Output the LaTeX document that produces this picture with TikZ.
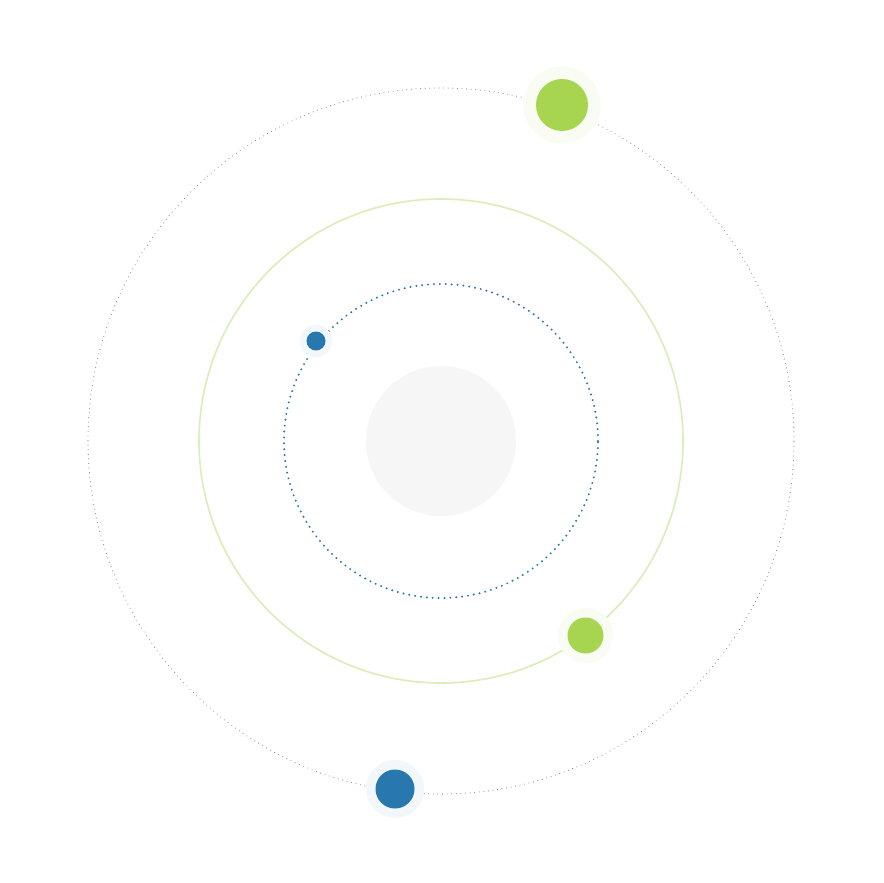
\documentclass[tikz,border=0pt]{standalone}
\definecolor{pgreen}{HTML}{A8D54F}
\definecolor{pblue}{HTML}{2878AD}
\definecolor{ghalo}{HTML}{F9FCF3}
\definecolor{bhalo}{HTML}{F2F7FB}
\definecolor{core}{HTML}{F6F6F6}
\definecolor{gring}{HTML}{DBEDB8}
\definecolor{oring}{HTML}{8C8C8C}
\begin{document}
\begin{tikzpicture}[x=1pt,y=-1pt,
  ringbase/.style={circle,inner sep=0pt,outer sep=0pt},
  outerring/.style={ringbase,draw=oring,line width=1.1pt,line cap=round,dash pattern=on 0pt off 4.6pt,minimum size=706pt},
  greenring/.style={ringbase,draw=gring,line width=1.6pt,minimum size=484pt},
  bluering/.style={ringbase,draw=pblue,line width=2.2pt,line cap=round,dash pattern=on 0pt off 5.9pt,minimum size=314pt},
  coredisk/.style={ringbase,fill=core,minimum size=150pt},
  halo/.style={ringbase},
  planet/.style={ringbase}]
\useasboundingbox (0,0) rectangle (883,883);
\fill[white] (0,0) rectangle (883,883);
\node[coredisk] (core) at (441,441) {};
\node[outerring] (outer) at (441,441) {};
\node[greenring] (green) at (441,441) {};
\node[bluering] (blue) at (441,441) {};
% planets
\node[halo,fill=ghalo,minimum size=77pt] (h1) at (562,105) {};
\node[planet,fill=pgreen,minimum size=52pt] (p1) at (562,105) {};
\node[halo,fill=bhalo,minimum size=32pt] (h2) at (316,341) {};
\node[planet,fill=pblue,minimum size=19pt] (p2) at (316,341) {};
\node[halo,fill=ghalo,minimum size=55pt] (h3) at (585.5,635.5) {};
\node[planet,fill=pgreen,minimum size=36pt] (p3) at (585.5,635.5) {};
\node[halo,fill=bhalo,minimum size=58pt] (h4) at (395,789) {};
\node[planet,fill=pblue,minimum size=39pt] (p4) at (395,789) {};
\end{tikzpicture}
\end{document}
